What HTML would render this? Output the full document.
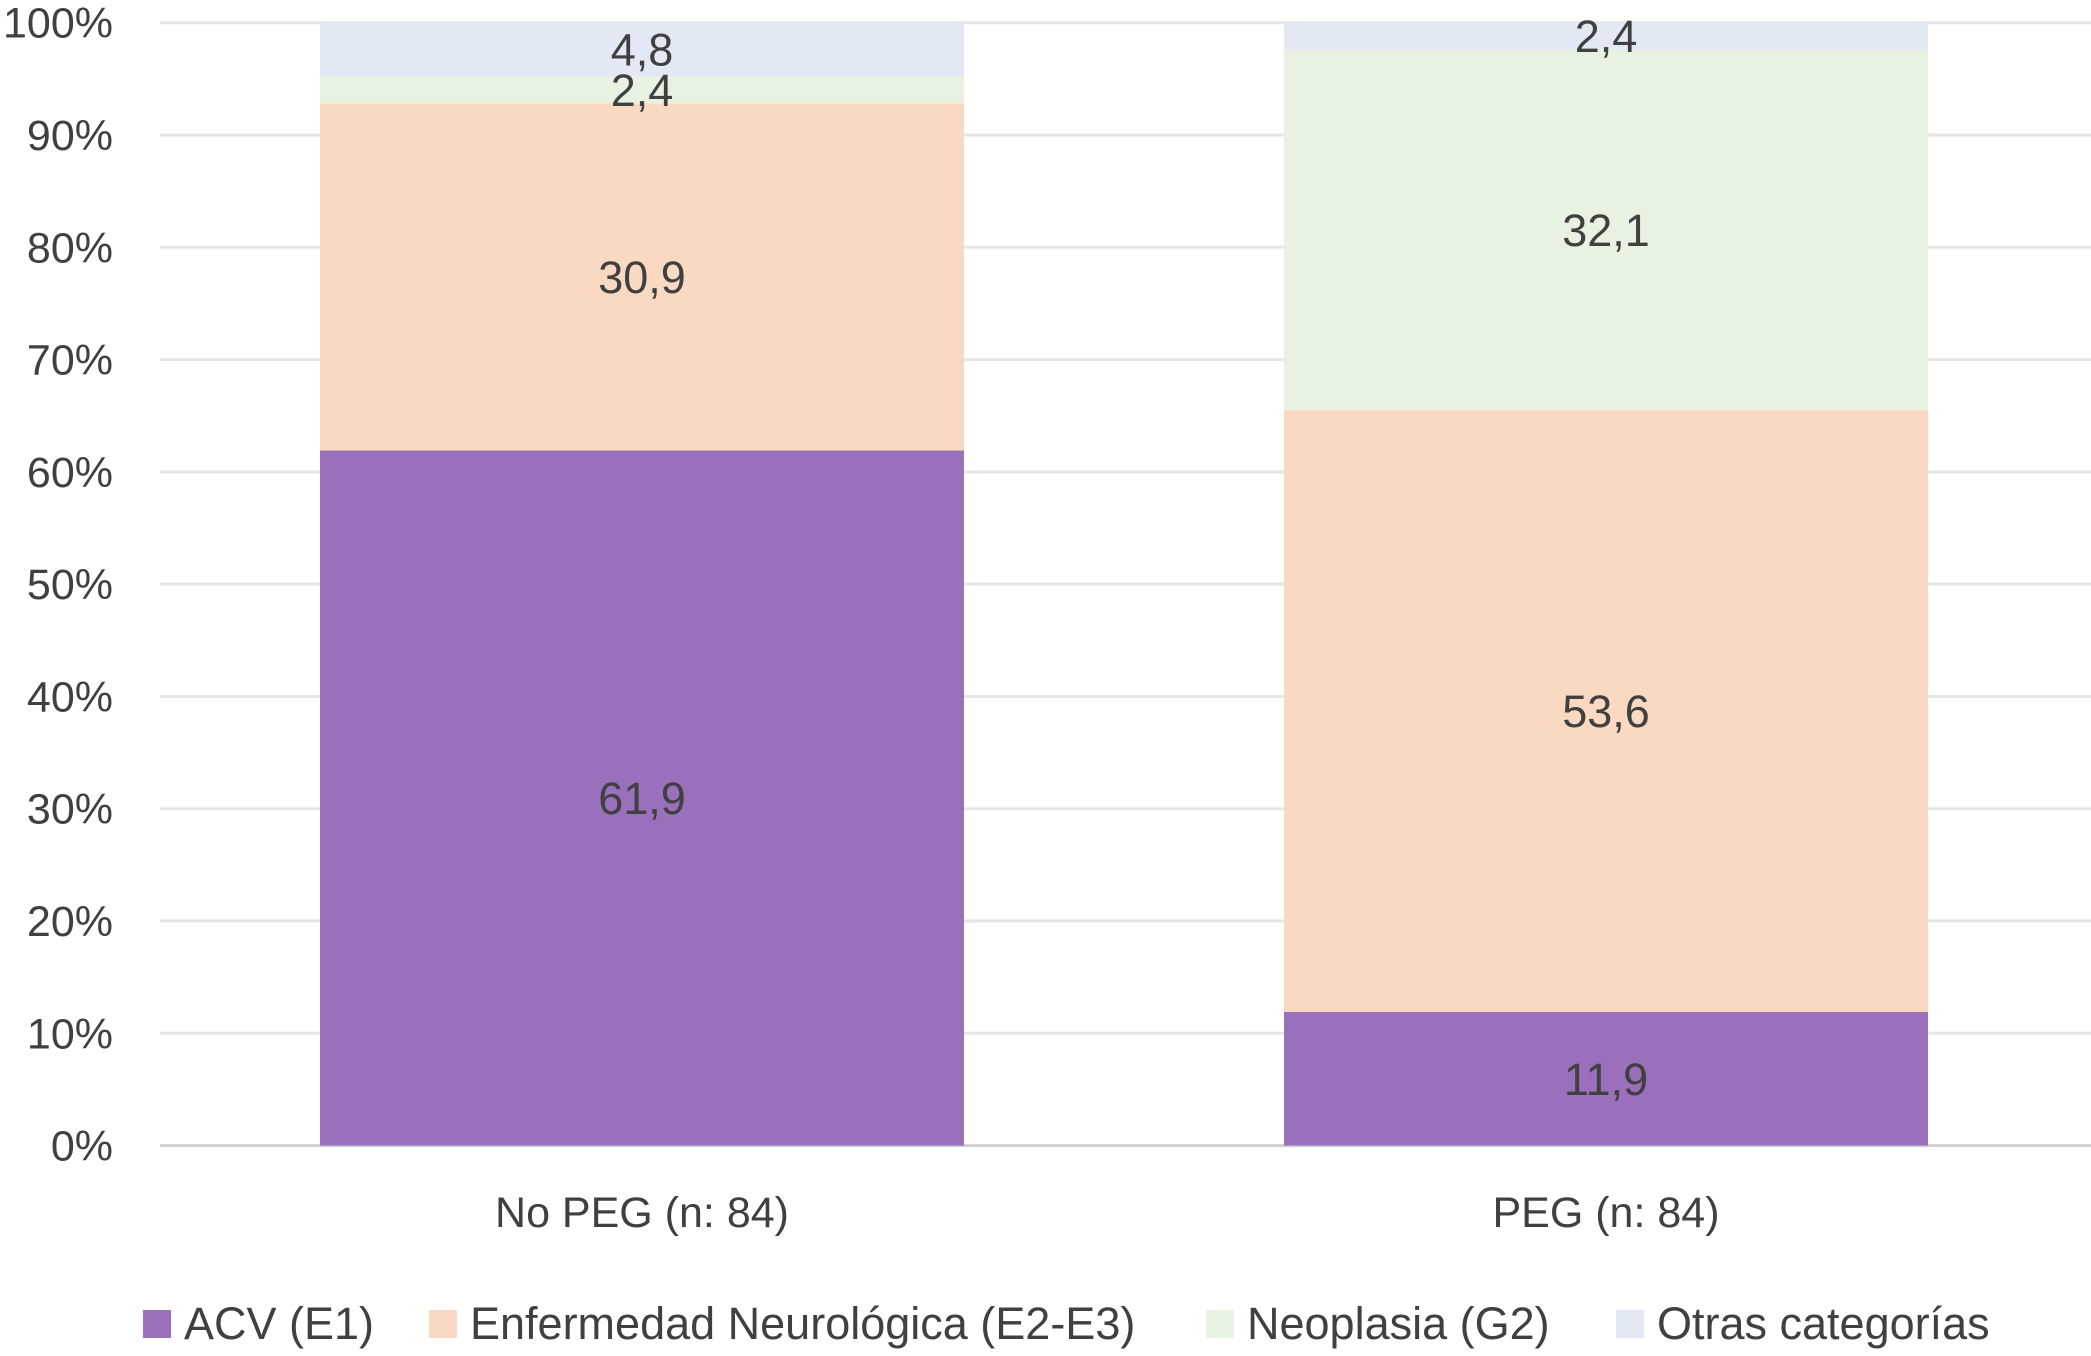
<!DOCTYPE html>
<html><head><meta charset="utf-8"><style>
html,body{margin:0;padding:0;background:#fff;}
svg text{font-family:"Liberation Sans",sans-serif;fill:#404040;}
</style></head><body>
<svg width="2091" height="1351" viewBox="0 0 2091 1351" xmlns="http://www.w3.org/2000/svg">
<g id="grid"></g><g id="bars"></g><g id="labels"></g><g id="legend"></g>
</svg>
<script>
const categories=["No PEG (n: 84)","PEG (n: 84)"];
const seriesNames=["ACV (E1)","Enfermedad Neurológica (E2-E3)","Neoplasia (G2)","Otras categorías"];
const acv=[61.9,11.9];
const neuro=[30.9,53.6];
const neoplasia=[2.4,32.1];
const otras=[4.8,2.4];
const yTicks=[0,10,20,30,40,50,60,70,80,90,100];
const yTickLabels=["0%","10%","20%","30%","40%","50%","60%","70%","80%","90%","100%"];

const series=[acv,neuro,neoplasia,otras];
const colors=["#9a6fbb","#f9d9c1","#e8f2e1","#e3e8f5"];
const ns="http://www.w3.org/2000/svg";
const y0=1145.6,y1=22.7,xL=160,xR=2091;
const y=v=>y0-(v/100)*(y0-y1);
const catCenter=i=>642+i*964;
const barW=644;
function mk(tag,attrs,parent){const e=document.createElementNS(ns,tag);for(const k in attrs)e.setAttribute(k,attrs[k]);parent.appendChild(e);return e;}
const grid=document.getElementById('grid'),bars=document.getElementById('bars'),labels=document.getElementById('labels'),legend=document.getElementById('legend');
yTicks.forEach((t,i)=>{
  const l=mk('line',{x1:xL,x2:xR,y1:y(t),y2:y(t),stroke:t===0?'#d0d0d0':'#e6e6e6','stroke-width':3},grid);
  
  
  const tx=mk('text',{x:113,y:y(t)+15,'text-anchor':'end','font-size':43},labels);
  tx.textContent=yTickLabels[i];
  
  
});
categories.forEach((c,i)=>{
  let base=0;
  series.forEach((s,si)=>{
    const v=s[i];
    const r=mk('rect',{x:catCenter(i)-barW/2,y:y(base+v),width:barW,height:y(base)-y(base+v),fill:colors[si]},bars);
    
    
    const t=mk('text',{x:catCenter(i),y:(y(base)+y(base+v))/2+16,'text-anchor':'middle','font-size':45},labels);
    t.textContent=v.toFixed(1).replace('.',',');
    
    
    base+=v;
  });
  const ct=mk('text',{x:catCenter(i),y:1227,'text-anchor':'middle','font-size':43},labels);
  ct.textContent=c;
  
  
});
const legX=[143,429,1206,1616];
seriesNames.forEach((n,i)=>{
  const g=mk('g',{},legend);
  
  
  mk('rect',{x:legX[i],y:1310,width:28,height:28,fill:colors[i]},g);
  const t=mk('text',{x:legX[i]+41,y:1339,'font-size':45},g);
  t.textContent=n;
});
</script>
</body></html>
